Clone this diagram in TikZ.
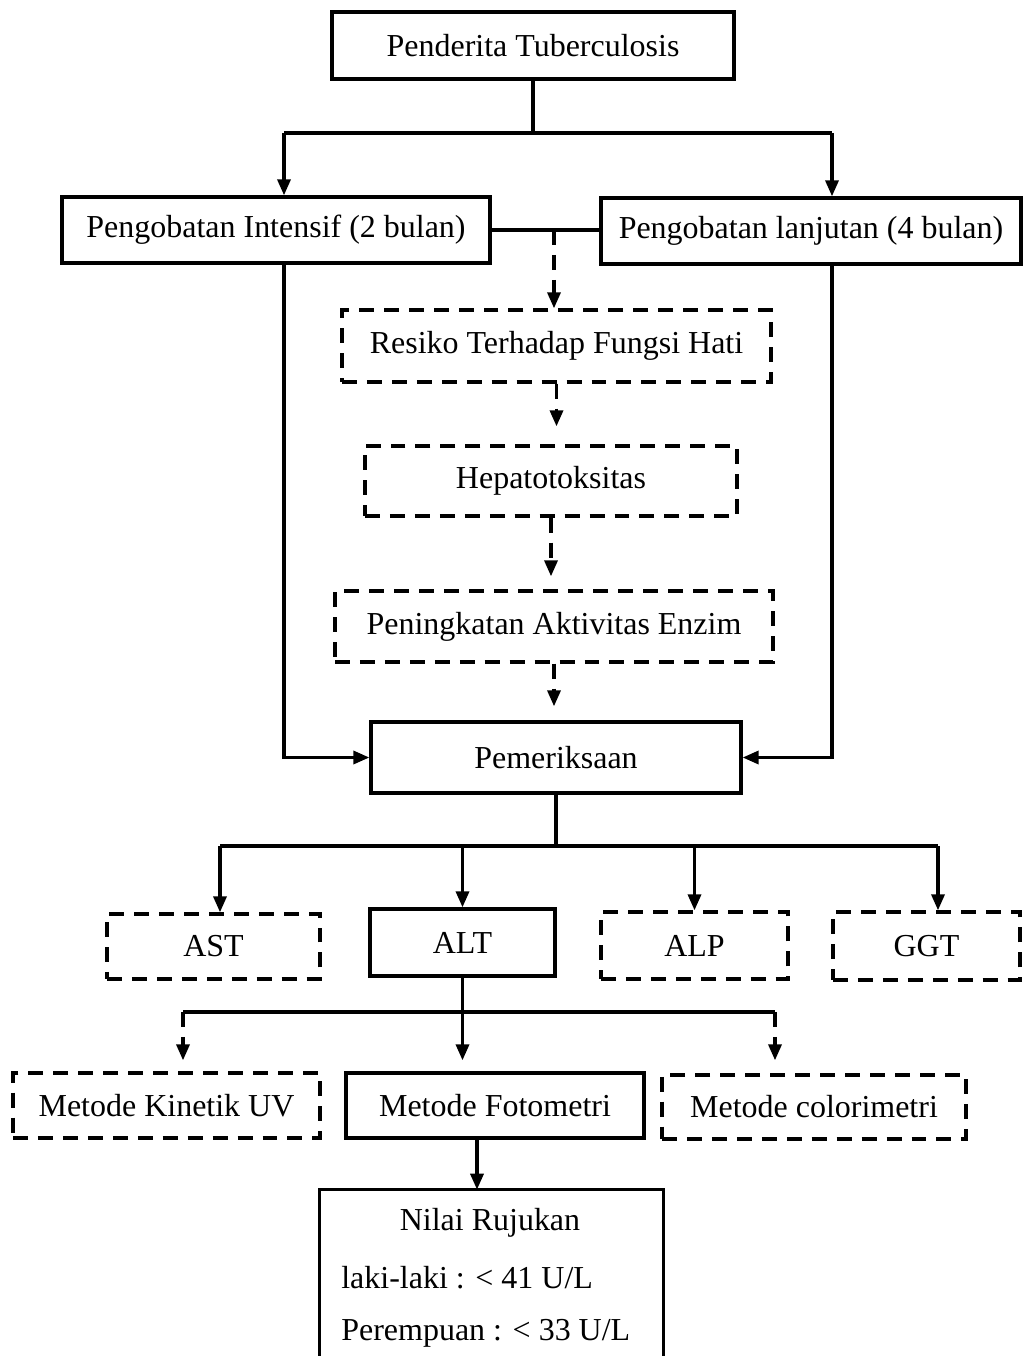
\documentclass[tikz,border=0pt]{standalone}
\usepackage{fontspec}
\setmainfont{Liberation Serif}
\usetikzlibrary{arrows.meta,calc}
\begin{document}
\begin{tikzpicture}[x=0.02cm,y=-0.02cm,
  font=\fontsize{18.2pt}{22pt}\selectfont,
  solidbox/.style={draw,line width=1.9pt,inner sep=0pt,align=center},
  dashbox/.style={draw,line width=1.9pt,inner sep=0pt,align=center,dash pattern=on 8.5pt off 5.7pt},
  ln/.style={line width=1.9pt},
  arr/.style={line width=1.9pt,-{Triangle[length=0.32cm,width=0.26cm]}},
  darr/.style={line width=1.9pt,dash pattern=on 8.5pt off 5.7pt,-{Triangle[length=0.32cm,width=0.26cm]}}]
\fill[white] (0,0) rectangle (1024,1356);
\useasboundingbox (0,0) rectangle (1024,1356);

\node[solidbox,minimum width=8.04cm,minimum height=1.34cm] (top) at (533,45.5) {Penderita Tuberculosis};
\node[solidbox,minimum width=8.56cm,minimum height=1.32cm] (int) at (276,230) {Pengobatan Intensif (2 bulan)};
\node[solidbox,minimum width=8.40cm,minimum height=1.32cm] (lanj) at (811,231) {Pengobatan lanjutan (4 bulan)};
\node[dashbox,minimum width=8.58cm,minimum height=1.44cm] (resiko) at (556.5,346) {Resiko Terhadap Fungsi Hati};
\node[dashbox,minimum width=7.44cm,minimum height=1.40cm] (hepa) at (551,481) {Hepatotoksitas};
\node[dashbox,minimum width=8.76cm,minimum height=1.42cm] (pening) at (554,626.5) {Peningkatan Aktivitas Enzim};
\node[solidbox,minimum width=7.40cm,minimum height=1.42cm] (pemer) at (556,757.5) {Pemeriksaan};
\node[dashbox,minimum width=4.26cm,minimum height=1.30cm] (ast) at (213.5,946.5) {AST};
\node[solidbox,minimum width=3.70cm,minimum height=1.34cm] (alt) at (462.5,942.5) {ALT};
\node[dashbox,minimum width=3.74cm,minimum height=1.34cm] (alp) at (694.5,945.5) {ALP};
\node[dashbox,minimum width=3.74cm,minimum height=1.36cm] (ggt) at (926.5,946) {GGT};
\node[dashbox,minimum width=6.14cm,minimum height=1.30cm] (kin) at (166.5,1105.5) {Metode Kinetik UV};
\node[solidbox,minimum width=5.96cm,minimum height=1.30cm] (foto) at (495,1105.5) {Metode Fotometri};
\node[dashbox,minimum width=6.08cm,minimum height=1.28cm] (colo) at (814,1107) {Metode colorimetri};
\node[inner sep=0pt,minimum width=6.86cm,minimum height=3.32cm] (nilai) at (491.5,1273) {};
\draw[ln] (nilai.south west) -- (nilai.north west) -- (nilai.north east) -- (nilai.south east);
\node[inner sep=0pt] (n1) at (490,1223) {Nilai Rujukan};
\node[inner sep=0pt,anchor=west] (n2) at (341,1278) {laki-laki : < 41 U/L};
\node[inner sep=0pt,anchor=west] (n3) at (341,1333) {Perempuan : < 33 U/L};

% top split
\coordinate (jl) at (284,133);
\coordinate (jr) at (832,133);
\draw[ln] (top.south) |- (jl);
\draw[ln] (top.south) |- (jr);
\draw[arr] (jl) -- (jl |- int.north);
\draw[arr] (jr) -- (jr |- lanj.north);

% middle link
\draw[ln] (int.east) -- (int.east -| lanj.west);
\coordinate (jm) at (554,230);
\draw[darr] (jm) -- (jm |- resiko.north);
\draw[darr,shorten >=0.36cm] (resiko.south) -- (resiko.south |- hepa.north);
\draw[darr,shorten >=0.26cm] (hepa.south) -- (hepa.south |- pening.north);
\draw[darr,shorten >=0.28cm] (pening.south) -- (pening.south |- pemer.north);

% side paths
\draw[arr] (jl |- int.south) |- (pemer.west);
\draw[arr] (jr |- lanj.south) |- (pemer.east);

% tests
\coordinate (ja) at (220,846);
\coordinate (jg) at (938,846);
\draw[ln] (pemer.south) -- (pemer.south |- ja);
\draw[ln] (ja) -- (jg);
\draw[arr] (ja) -- (ja |- ast.north);
\draw[arr] (alt.north |- ja) -- (alt.north);
\draw[arr] (alp.north |- ja) -- (alp.north);
\draw[arr] (jg) -- (jg |- ggt.north);

% methods
\coordinate (jk) at (183,1012);
\coordinate (jc) at (775,1012);
\draw[ln] (alt.south) -- (alt.south |- jk);
\draw[ln] (jk) -- (jc);
\draw[darr,shorten >=0.22cm] (jk) -- (jk |- kin.north);
\draw[arr,shorten >=0.22cm] (alt.south |- jk) -- (alt.south |- foto.north);
\draw[darr,shorten >=0.26cm] (jc) -- (jc |- colo.north);

% result
\coordinate (jf) at (477,1138);
\draw[arr] (jf) -- (jf |- nilai.north);
\end{tikzpicture}
\end{document}
